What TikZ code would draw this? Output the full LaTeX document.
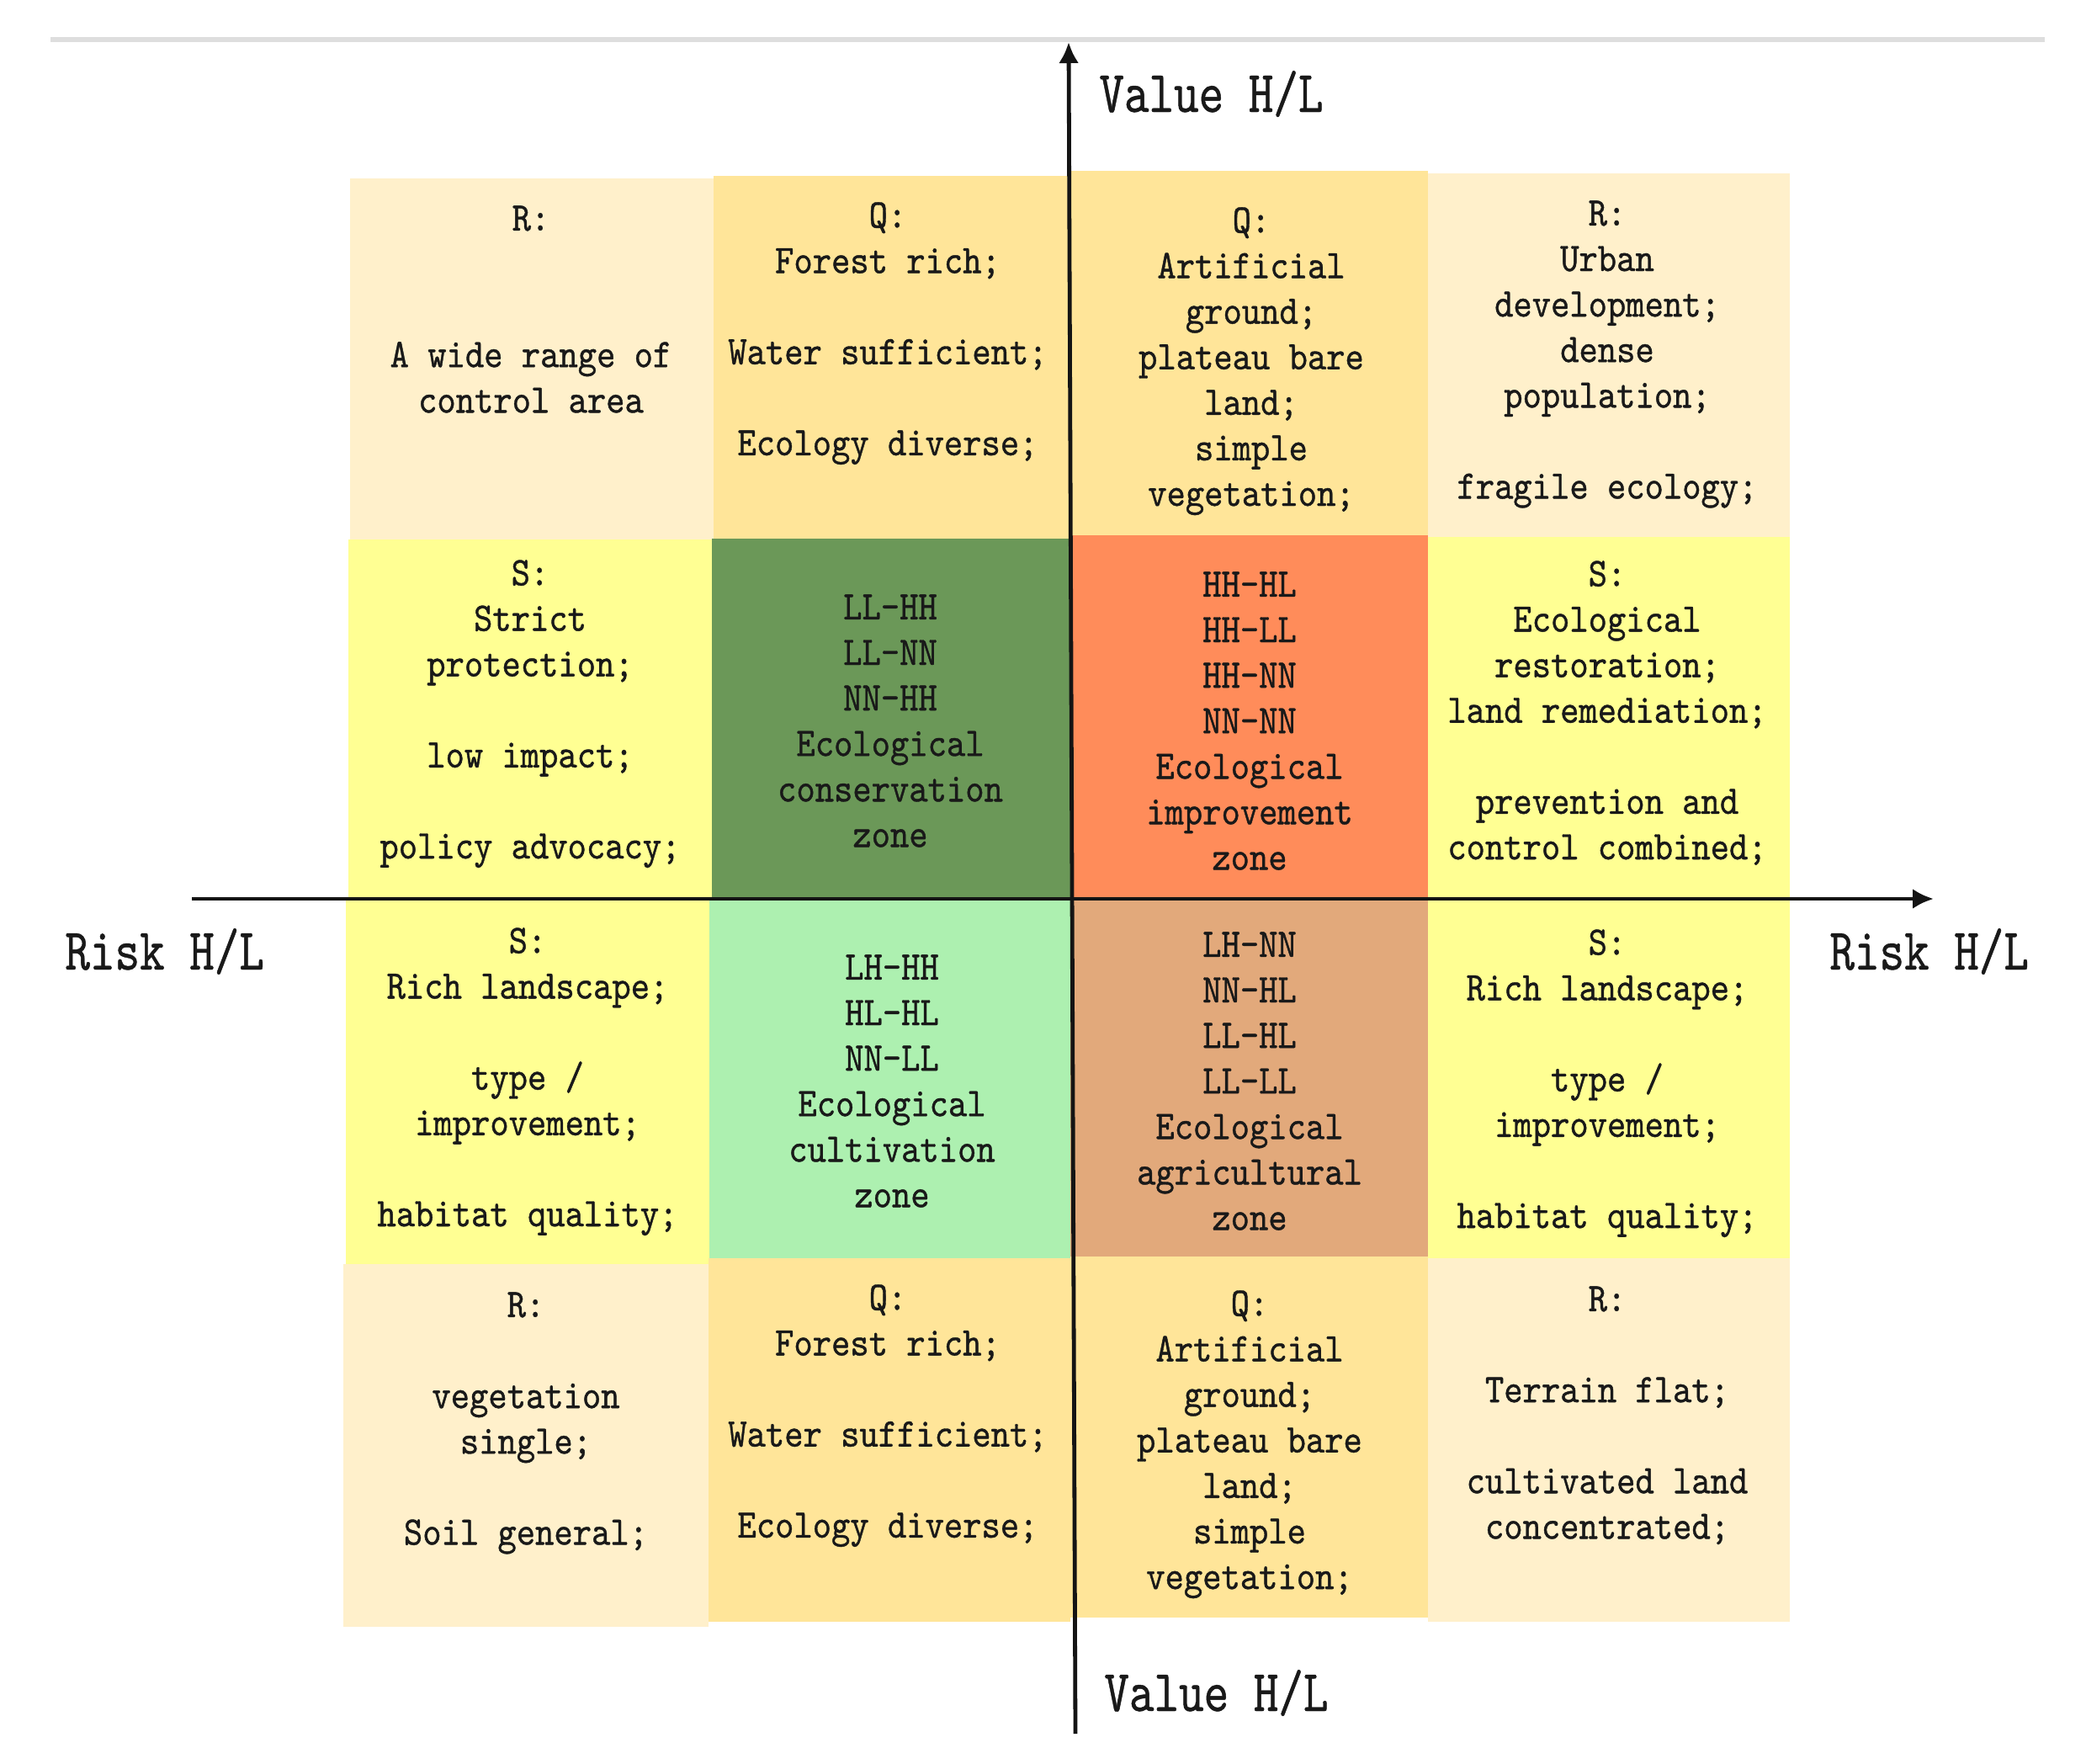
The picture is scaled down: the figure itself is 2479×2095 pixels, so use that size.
\documentclass[tikz,border=0pt]{standalone}
\usepackage{fontspec}
\usetikzlibrary{arrows.meta}
\newfontfamily\cellfont{lmmono10-regular.otf}[FakeStretch=0.88,FakeBold=0.8]
\newfontfamily\axisfont{lmmono10-regular.otf}[FakeStretch=0.80,FakeBold=0.6]
\definecolor{cR}{HTML}{FFF0CB}
\definecolor{cQ}{HTML}{FFE599}
\definecolor{cS}{HTML}{FFFF93}
\definecolor{cDG}{HTML}{6B9858}
\definecolor{cOR}{HTML}{FF8C5A}
\definecolor{cLG}{HTML}{ADF0B0}
\definecolor{cTan}{HTML}{E2A97B}
\definecolor{topline}{HTML}{DEDEDE}
\begin{document}
\begin{tikzpicture}[x=0.5pt,y=-0.5pt,
  cell/.style={anchor=north,inner sep=0pt,align=center,text=black!90,
    font=\cellfont\fontsize{24.15}{27.05}\selectfont},
  axlab/.style={anchor=base west,inner sep=0pt,text=black!90,
    font=\axisfont\fontsize{35.2}{40}\selectfont},
  axisline/.style={line width=2.4pt,draw=black!92,-{Latex[length=12.5pt,width=12pt]}}]
\useasboundingbox (0,0) rectangle (2479,2095);
\fill[white] (0,0) rectangle (2479,2095);
% top grey rule
\coordinate (gl) at (60,47);
\coordinate (gr) at (2430,47);
\draw[topline,line width=3pt] (gl) -- (gr);
% cells
\fill[cR]  (416,212)  rectangle (848,641);
\fill[cQ]  (848,209)  rectangle (1272,640);
\fill[cQ]  (1272,203) rectangle (1697,636);
\fill[cR]  (1697,206) rectangle (2127,638);
\fill[cS]  (414,641)  rectangle (846,1068);
\fill[cDG] (846,640)  rectangle (1272,1068);
\fill[cOR] (1272,636) rectangle (1697,1068);
\fill[cS]  (1697,638) rectangle (2127,1068);
\fill[cS]  (411,1068) rectangle (843,1502);
\fill[cLG] (843,1068) rectangle (1272,1495);
\fill[cTan](1272,1068) rectangle (1697,1493);
\fill[cS]  (1697,1068) rectangle (2127,1495);
\fill[cR]  (408,1502) rectangle (842,1933);
\fill[cQ]  (842,1495) rectangle (1272,1927);
\fill[cQ]  (1272,1493) rectangle (1697,1922);
\fill[cR]  (1697,1495) rectangle (2127,1927);
% row 1
\node[cell] (r1c1) at (631,244) {R:\\~\\~\\A wide range of\\control area};
\node[cell] (r1c2) at (1055,240) {Q:\\Forest rich;\\~\\Water sufficient;\\~\\Ecology diverse;};
\node[cell] (r1c3) at (1487,246) {Q:\\Artificial\\ground;\\plateau bare\\land;\\simple\\vegetation;};
\node[cell] (r1c4) at (1910,238) {R:\\Urban\\development;\\dense\\population;\\~\\fragile ecology;};
% row 2
\node[cell] (r2c1) at (630,665) {S:\\Strict\\protection;\\~\\low impact;\\~\\policy advocacy;};
\node[cell] (r2c2) at (1058,706) {LL-HH\\LL-NN\\NN-HH\\Ecological\\conservation\\zone};
\node[cell] (r2c3) at (1485,679) {HH-HL\\HH-LL\\HH-NN\\NN-NN\\Ecological\\improvement\\zone};
\node[cell] (r2c4) at (1910,666) {S:\\Ecological\\restoration;\\land remediation;\\~\\prevention and\\control combined;};
% row 3
\node[cell] (r3c1) at (627,1102) {S:\\Rich landscape;\\~\\type /\\improvement;\\~\\habitat quality;};
\node[cell] (r3c2) at (1060,1134) {LH-HH\\HL-HL\\NN-LL\\Ecological\\cultivation\\zone};
\node[cell] (r3c3) at (1485,1107) {LH-NN\\NN-HL\\LL-HL\\LL-LL\\Ecological\\agricultural\\zone};
\node[cell] (r3c4) at (1910,1104) {S:\\Rich landscape;\\~\\type /\\improvement;\\~\\habitat quality;};
% row 4
\node[cell] (r4c1) at (625,1535) {R:\\~\\vegetation\\single;\\~\\Soil general;};
\node[cell] (r4c2) at (1055,1526) {Q:\\Forest rich;\\~\\Water sufficient;\\~\\Ecology diverse;};
\node[cell] (r4c3) at (1485,1533) {Q:\\Artificial\\ground;\\plateau bare\\land;\\simple\\vegetation;};
\node[cell] (r4c4) at (1910,1528) {R:\\~\\Terrain flat;\\~\\cultivated land\\concentrated;};
% axes
\coordinate (vbot) at (1278,2060);
\coordinate (vtop) at (1270,50);
\coordinate (hleft) at (228,1068);
\coordinate (hright) at (2298,1068);
\draw[axisline] (vbot) -- (vtop);
\draw[axisline] (hleft) -- (hright);
% axis labels
\node[axlab] (valtop) at (1306,133) {Value H/L};
\node[axlab] (valbot) at (1312,2033) {Value H/L};
\node[axlab] (riskl) at (77,1152) {Risk H/L};
\node[axlab] (riskr) at (2174,1152) {Risk H/L};
\end{tikzpicture}
\end{document}
